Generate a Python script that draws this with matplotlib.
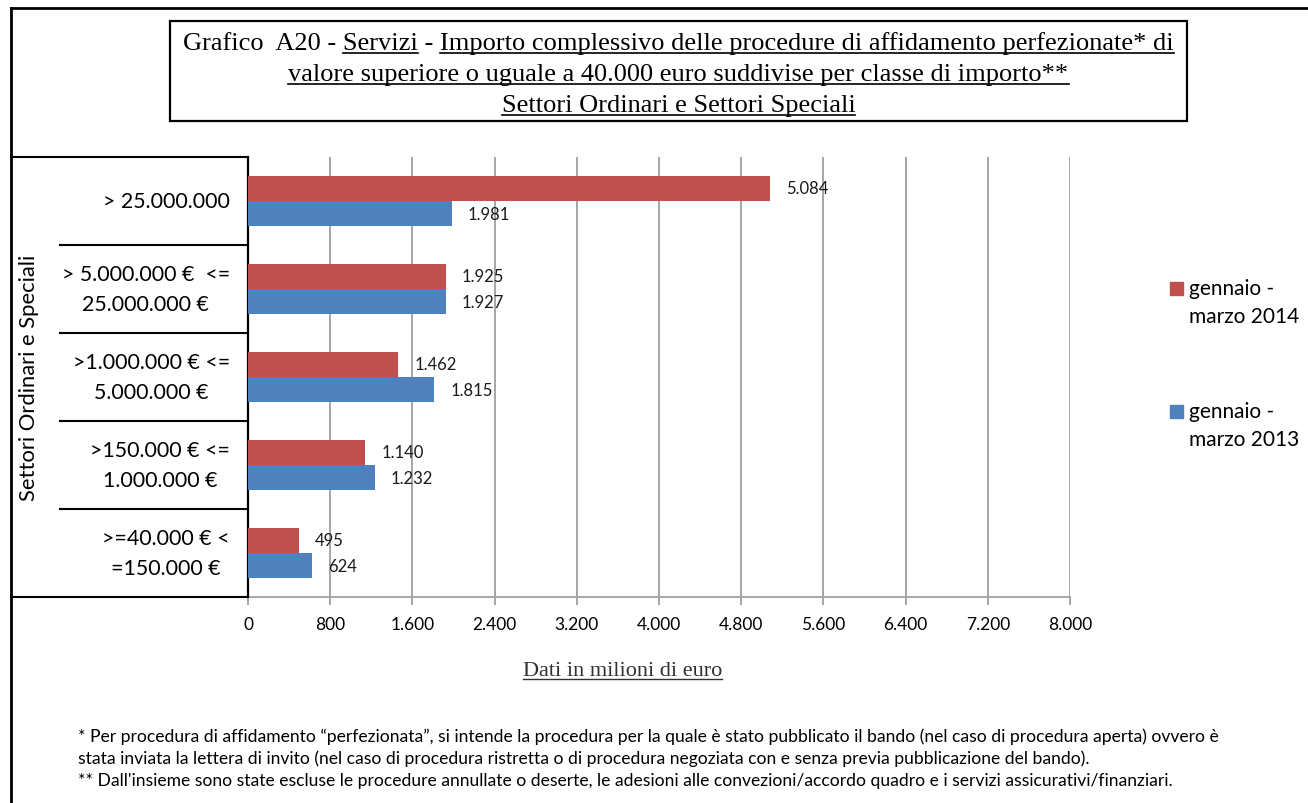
import matplotlib
matplotlib.use("Agg")
import matplotlib.pyplot as plt
from matplotlib.lines import Line2D
from matplotlib.patches import Rectangle

# ---------------- data ----------------
categories = ["> 25.000.000",
              "> 5.000.000 €  <=\n25.000.000 €",
              ">1.000.000 € <=\n5.000.000 €",
              ">150.000 € <=\n1.000.000 €",
              ">=40.000 € <\n=150.000 €"]
series_names = ["gennaio -\nmarzo 2014", "gennaio -\nmarzo 2013"]
values_2014 = [5084, 1925, 1462, 1140, 495]
values_2013 = [1981, 1927, 1815, 1232, 624]
xticks = [0, 800, 1600, 2400, 3200, 4000, 4800, 5600, 6400, 7200, 8000]
xtick_labels = ["0", "800", "1.600", "2.400", "3.200", "4.000", "4.800",
                "5.600", "6.400", "7.200", "8.000"]
colors = ["#C0504D", "#4F81BD"]

title_line1_parts = [("Grafico  A20 - ", False), ("Servizi", True), (" - ", False),
                     ("Importo complessivo delle procedure di affidamento perfezionate* di", True)]
title_line2 = "valore superiore o uguale a 40.000 euro suddivise per classe di importo**"
title_line3 = "Settori Ordinari e Settori Speciali"
ylabel = "Settori Ordinari e Speciali"
xlabel = "Dati in milioni di euro"
footnotes = [
    "* Per procedura di affidamento \u201cperfezionata\u201d, si intende la procedura per la quale \u00e8 stato pubblicato il bando (nel caso di procedura aperta) ovvero \u00e8",
    "stata inviata la lettera di invito (nel caso di procedura ristretta o di procedura negoziata con e senza previa pubblicazione del bando).",
    "** Dall'insieme sono state escluse le procedure annullate o deserte, le adesioni alle convezioni/accordo quadro e i servizi assicurativi/finanziari.",
]

def fmt(v):
    return f"{v:,}".replace(",", ".")

W, H = 1308, 804
fig = plt.figure(figsize=(W / 100, H / 100), dpi=100)
renderer = fig.canvas.get_renderer()

def fx(x):
    return x / W

def fy(y):
    return 1 - y / H

def hline(x0, x1, y, color="black", lw=1.5):
    fig.add_artist(Line2D([fx(x0), fx(x1)], [fy(y), fy(y)], color=color, lw=lw,
                          transform=fig.transFigure, solid_capstyle="projecting"))

def vline(x, y0, y1, color="black", lw=1.5):
    fig.add_artist(Line2D([fx(x), fx(x)], [fy(y0), fy(y1)], color=color, lw=lw,
                          transform=fig.transFigure, solid_capstyle="projecting"))

SANS = "Lato"
SERIF = "Liberation Serif"

# ---------------- axes ----------------
ax_l, ax_r, ax_t, ax_b = 248, 1070, 158, 598
ax = fig.add_axes([fx(ax_l), fy(ax_b), fx(ax_r - ax_l), (ax_b - ax_t) / H])
n = len(categories)
ypos = [n - 1 - i for i in range(n)]
bh = 0.285
ax.barh([y + bh / 2 for y in ypos], values_2014, height=bh, color=colors[0], zorder=3)
ax.barh([y - bh / 2 for y in ypos], values_2013, height=bh, color=colors[1], zorder=3)
for y, v in zip(ypos, values_2014):
    ax.annotate(fmt(v), (v, y + bh / 2), xytext=(11.5, 0), textcoords="offset points",
                va="center", ha="left", fontsize=12, family=SANS, color="#1a1a1a", zorder=4)
for y, v in zip(ypos, values_2013):
    ax.annotate(fmt(v), (v, y - bh / 2), xytext=(11.5, 0), textcoords="offset points",
                va="center", ha="left", fontsize=12, family=SANS, color="#1a1a1a", zorder=4)

ax.set_xlim(0, 8000)
ax.set_ylim(-0.5, n - 0.5)
ax.set_xticks(xticks)
ax.set_xticklabels(xtick_labels, family=SANS, fontsize=12.5)
ax.set_yticks([])
ax.grid(axis="x", color="#a6a6a6", lw=1.4, zorder=0)
ax.set_axisbelow(True)
for s in ["top", "right"]:
    ax.spines[s].set_visible(False)
ax.spines["left"].set_color("black")
ax.spines["left"].set_linewidth(1.6)
ax.spines["bottom"].set_color("#a6a6a6")
ax.spines["bottom"].set_linewidth(1.4)
ax.tick_params(axis="x", direction="out", length=6, width=1.4, color="#a6a6a6", pad=8)

# ---------------- left category table ----------------
hline(11, ax_l, ax_t)
hline(11, ax_l, ax_b)
cell = (ax_b - ax_t) / n
for i in range(1, n):
    hline(60, ax_l, ax_t + i * cell)
for i, lab in enumerate(categories):
    fig.text(fx(230), fy(ax_t + (i + 0.5) * cell), lab, ha="right", va="center",
             family=SANS, fontsize=15.4, linespacing=1.6, multialignment="center")
fig.text(fx(29), fy((ax_t + ax_b) / 2), ylabel, rotation=90, ha="center", va="center",
         family=SANS, fontsize=15.8)

# ---------------- outer frame ----------------
hline(11, W, 9, lw=2)
vline(11, 9, H, lw=2)

# ---------------- title box ----------------
fig.add_artist(Rectangle((fx(170), fy(122)), fx(1187 - 170), (122 - 22) / H, fill=False,
                         ec="black", lw=1.6, transform=fig.transFigure))

def text_width(s, size, family):
    t = fig.text(0, 0, s + "|", fontsize=size, family=family)
    w1 = t.get_window_extent(renderer).width
    t.set_text("|")
    w0 = t.get_window_extent(renderer).width
    t.remove()
    return w1 - w0

TS = 19
cx = (170 + 1187) / 2
full1 = "".join(p for p, _ in title_line1_parts)
wfull = text_width(full1, TS, SERIF)
x0 = cx - wfull / 2
fig.text(fx(x0), fy(50), full1, ha="left", va="baseline", fontsize=TS, family=SERIF)
acc = ""
for part, ul in title_line1_parts:
    xs = x0 + text_width(acc, TS, SERIF) if acc else x0
    acc += part
    xe = x0 + text_width(acc, TS, SERIF)
    if ul:
        hline(xs, xe, 53.5, lw=1.2)
for s, yb in [(title_line2, 81), (title_line3, 112)]:
    w = text_width(s, TS, SERIF)
    fig.text(fx(cx), fy(yb), s, ha="center", va="baseline", fontsize=TS, family=SERIF)
    hline(cx - w / 2, cx + w / 2, yb + 3.5, lw=1.2)

# ---------------- x label ----------------
xl_cx = (517 + 728) / 2
XS = 16
fig.text(fx(xl_cx), fy(676), xlabel, ha="center", va="baseline", fontsize=XS,
         family=SERIF, color="#303030")
w = text_width(xlabel, XS, SERIF)
hline(xl_cx - w / 2, xl_cx + w / 2, 680, color="#303030", lw=1.0)

# ---------------- legend ----------------
leg_y = [289, 412]
for name, col, yy in zip(series_names, colors, leg_y):
    fig.add_artist(Rectangle((fx(1170), fy(yy + 7)), fx(13), 13 / H, color=col,
                             transform=fig.transFigure))
    lines = name.split("\n")
    for k, ln in enumerate(lines):
        fig.text(fx(1189), fy(yy + k * 28.5), ln, ha="left", va="center",
                 family=SANS, fontsize=15)

# ---------------- footnotes ----------------
for k, ln in enumerate(footnotes):
    fig.text(fx(78), fy(737 + k * 22), ln, ha="left", va="center", family=SANS,
             fontsize=12.6)

fig.savefig("out.png", dpi=100)
